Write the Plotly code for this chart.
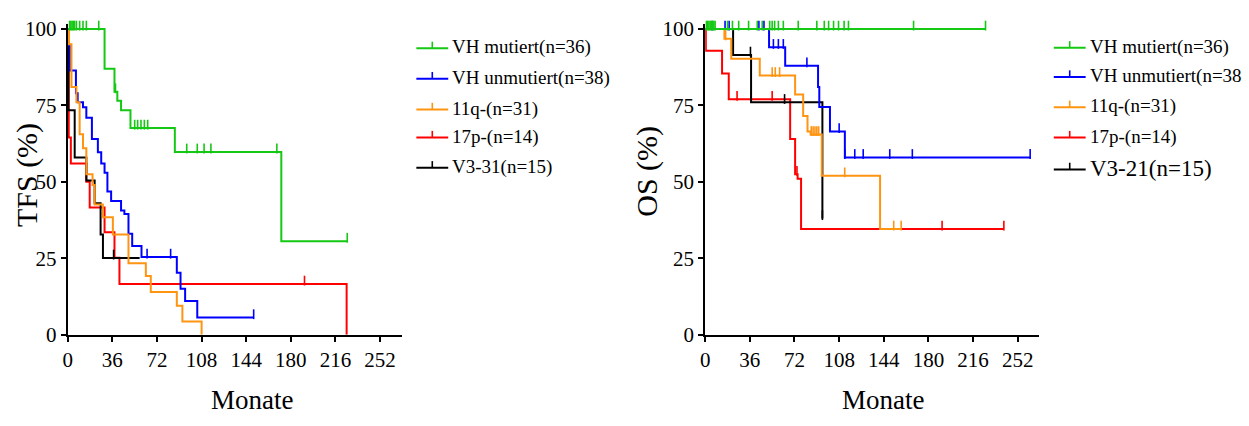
import plotly.graph_objects as go

W, H = 1249, 426
FONT = "Liberation Serif"

names = ["VH mutiert(n=36)", "VH unmutiert(n=38)", "11q-(n=31)", "17p-(n=14)", "V3-31(n=15)"]
names_os = ["VH mutiert(n=36)", "VH unmutiert(n=38", "11q-(n=31)", "17p-(n=14)", "V3-21(n=15)"]
colors = ["#14C814", "#0000FF", "#FF9410", "#FF0000", "#000000"]

x_ticks = [0, 36, 72, 108, 144, 180, 216, 252]
y_ticks = [0, 25, 50, 75, 100]

# ---------------- TFS (left panel) ----------------
tfs_mut_t = [0, 29.7, 37.7, 40, 43, 50.6, 86.4, 172.3]
tfs_mut_s = [100, 87, 79.5, 76.5, 73.4, 67.6, 59.8, 30.6]
tfs_mut_end = 225.5
tfs_mut_c = [1.5, 2.5, 3.5, 4.5, 5.5, 7, 9.6, 12.3, 15, 25, 38.5, 54, 56.4, 59.1, 61.8, 64.5,
             96, 104.5, 110, 115.5, 168.7, 225.5]

tfs_unm_t = [0, 0.5, 1.6, 6.6, 8, 12.3, 15, 19.5, 24.3, 27, 29.7, 32, 35, 43, 45.7, 49, 52,
             59.5, 88, 91, 94.7, 104.5]
tfs_unm_s = [100, 94.7, 86.4, 79, 76, 74.4, 71, 64, 59.7, 56, 53, 46.8, 43.7, 40.6, 39.5, 33,
             29, 25.4, 20.3, 15, 11, 5.6]
tfs_unm_end = 150
tfs_unm_c = [64, 83, 150]

tfs_11q_t = [0, 1, 3, 7, 9.6, 12.3, 15, 20, 21.7, 28.3, 36.4, 49, 63, 67, 88, 92.5, 108]
tfs_11q_s = [100, 95, 81, 76, 65.6, 61, 52.5, 49, 42.6, 38.4, 32.8, 23.4, 19.2, 14, 9.5, 4.3, 0]
tfs_11q_end = 108
tfs_11q_c = []

tfs_17p_t = [0, 0.8, 2.5, 15, 17.7, 29.7, 37.7, 41.7, 225]
tfs_17p_s = [100, 64.5, 56, 50, 41.6, 33.5, 25.2, 16.6, 0]
tfs_17p_end = 225
tfs_17p_c = [191]

tfs_v3_t = [0, 0.5, 5.6, 15, 21.7, 26.5, 28.4]
tfs_v3_s = [100, 73.4, 58, 50.4, 43, 32.8, 25.1]
tfs_v3_end = 58
tfs_v3_c = [37]

# ---------------- OS (right panel) ----------------
os_mut_t = [0]
os_mut_s = [100]
os_mut_end = 226
os_mut_c = [1, 2, 3, 4, 5, 6, 7, 8, 18, 22, 27, 35, 42, 46, 52, 54, 56, 59, 63, 75, 90, 96,
            99.5, 103.5, 107.5, 112, 115.5, 168, 226]

os_unm_t = [0, 51.5, 64.5, 91, 92, 100.6, 112.6]
os_unm_s = [100, 94, 88, 81, 74.5, 66.5, 58]
os_unm_end = 262
os_unm_c = [5.6, 16, 19.3, 43.3, 47.4, 55, 59, 63, 82, 108, 112.6, 120.6, 127.4, 148.8, 167, 262]

os_11q_t = [0, 15.5, 21, 44, 72.5, 79, 82.5, 85, 94, 141]
os_11q_s = [100, 96.8, 90.3, 84.8, 78.6, 71.5, 66.5, 65.5, 52, 34.6]
os_11q_end = 158
os_11q_c = [16.5, 54, 56.5, 60, 85.5, 87, 88.5, 90, 91.5, 112.5, 152, 158]

os_17p_t = [0, 0.5, 13.6, 19, 68.5, 72.5, 74.5, 77.3]
os_17p_s = [100, 92.9, 85.4, 77, 64, 52.5, 51, 34.6]
os_17p_end = 240.8
os_17p_c = [25.7, 37, 54, 74, 191, 240.8]

os_v3_t = [0, 22.5, 37, 94.5]
os_v3_s = [100, 91.5, 76, 38]
os_v3_end = 94.5
os_v3_c = [36.5, 64, 94.5]

tfs_series = [
    (tfs_mut_t, tfs_mut_s, tfs_mut_end, tfs_mut_c),
    (tfs_unm_t, tfs_unm_s, tfs_unm_end, tfs_unm_c),
    (tfs_11q_t, tfs_11q_s, tfs_11q_end, tfs_11q_c),
    (tfs_17p_t, tfs_17p_s, tfs_17p_end, tfs_17p_c),
    (tfs_v3_t, tfs_v3_s, tfs_v3_end, tfs_v3_c),
]
os_series = [
    (os_mut_t, os_mut_s, os_mut_end, os_mut_c),
    (os_unm_t, os_unm_s, os_unm_end, os_unm_c),
    (os_11q_t, os_11q_s, os_11q_end, os_11q_c),
    (os_17p_t, os_17p_s, os_17p_end, os_17p_c),
    (os_v3_t, os_v3_s, os_v3_end, os_v3_c),
]

TICK_OFFSET = 1.1  # censor tick sits on top of the curve (in % units)


def step_value(t, s, x):
    v = s[0]
    for ti, si in zip(t, s):
        if ti <= x:
            v = si
    return v


fig = go.Figure()

draw_order = [3, 4, 1, 2, 0]


def add_panel(series, xa, ya, names_list):
    for i in draw_order:
        t, s, end, c = series[i]
        fig.add_trace(go.Scatter(
            x=list(t) + [end], y=list(s) + [s[-1]],
            mode="lines", line=dict(color=colors[i], width=2, shape="hv"),
            xaxis=xa, yaxis=ya, showlegend=False, name=names_list[i],
            hoverinfo="x+y+name"))
        if c:
            fig.add_trace(go.Scatter(
                x=c, y=[step_value(t, s, ci) + TICK_OFFSET for ci in c],
                mode="markers",
                marker=dict(symbol="line-ns", size=7, line=dict(color=colors[i], width=1.6)),
                xaxis=xa, yaxis=ya, showlegend=False, cliponaxis=False,
                hoverinfo="skip"))


add_panel(tfs_series, "x", "y", names)
add_panel(os_series, "x2", "y2", names_os)

ydom = [1 - 343 / H, 1 - 18.2 / H]
axis_common = dict(
    showline=True, linecolor="black", linewidth=2, ticks="outside", ticklen=5,
    tickwidth=1.5, tickcolor="black", showgrid=False, zeroline=False,
    tickfont=dict(family=FONT, size=21, color="black"),
)

fig.update_layout(
    width=W, height=H,
    margin=dict(l=0, r=0, t=0, b=0),
    paper_bgcolor="white", plot_bgcolor="white",
    showlegend=False,
    xaxis=dict(domain=[63 / W, 399 / W], range=[0, 270], tickvals=x_ticks, anchor="y", **axis_common),
    yaxis=dict(domain=ydom, range=[0, 101.5], tickvals=y_ticks, anchor="x", **axis_common),
    xaxis2=dict(domain=[703 / W, 1038 / W], range=[0, 269], tickvals=x_ticks, anchor="y2", **axis_common),
    yaxis2=dict(domain=ydom, range=[0, 101.5], tickvals=y_ticks, anchor="x2", **axis_common),
)

annotations = []
shapes = []


def px(xp):
    return xp / W


def py(yp):
    return 1 - yp / H


# axis titles
for xc, text in [(248, "Monate"), (882, "Monate")]:
    annotations.append(dict(x=px(xc), y=py(411), xref="paper", yref="paper", text=text,
                            showarrow=False, xanchor="center", yanchor="middle",
                            font=dict(family=FONT, size=27, color="black")))
for xc, yc, text in [(22, 176, "TFS (%)"), (645, 172, "OS (%)")]:
    annotations.append(dict(x=px(xc), y=py(yc), xref="paper", yref="paper", text=text,
                            showarrow=False, textangle=-90, xanchor="center", yanchor="middle",
                            font=dict(family=FONT, size=30, color="black")))

# legends (drawn manually so the glyph shows the censor tick)
legend_specs = [
    (413, [43.3, 75, 107.3, 136.7, 168.3], names, [19, 19, 19, 19, 19]),
    (1053, [42.7, 73.3, 105, 136.7, 170], names_os, [19, 19, 19, 19, 23]),
]
for x0, rows, labels, sizes in legend_specs:
    for i, (yr, lab, fs) in enumerate(zip(rows, labels, sizes)):
        shapes.append(dict(type="line", xref="paper", yref="paper",
                           x0=px(x0), x1=px(x0 + 32), y0=py(yr), y1=py(yr),
                           line=dict(color=colors[i], width=2)))
        shapes.append(dict(type="line", xref="paper", yref="paper",
                           x0=px(x0 + 16), x1=px(x0 + 16), y0=py(yr), y1=py(yr - 7),
                           line=dict(color=colors[i], width=1.6)))
        annotations.append(dict(x=px(x0 + 34), y=py(yr - 1), xref="paper", yref="paper",
                                text=lab, showarrow=False, xanchor="left", yanchor="middle",
                                font=dict(family=FONT, size=fs, color="black")))

fig.update_layout(annotations=annotations, shapes=shapes)

fig.write_html("out.html")
